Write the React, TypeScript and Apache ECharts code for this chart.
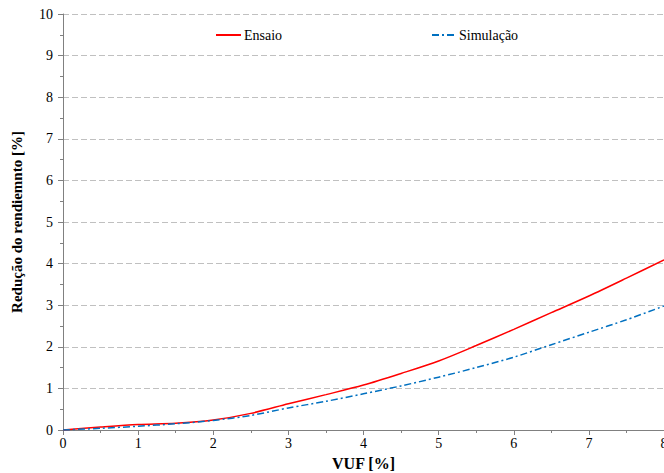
import React, { useEffect, useRef } from "react";
import * as echarts from "echarts";

const xValues = [0, 0.5, 1, 1.5, 2, 2.5, 3, 3.5, 4, 4.5, 5, 5.5, 6, 6.5, 7, 7.5, 8];
const ensaio = [0, 0.07, 0.13, 0.16, 0.24, 0.4, 0.63, 0.85, 1.08, 1.36, 1.66, 2.03, 2.42, 2.82, 3.22, 3.65, 4.09];
const simulacao = [0, 0.04, 0.09, 0.15, 0.23, 0.35, 0.53, 0.69, 0.87, 1.06, 1.27, 1.5, 1.75, 2.05, 2.35, 2.65, 2.98];
const seriesNames = ["Ensaio", "Simulação"];
const xAxisName = "VUF [%]";
const yAxisName = "Redução do rendiemnto [%]";

const font = "'Liberation Serif', 'Times New Roman', serif";

export default function App() {
  const ref = useRef<HTMLDivElement>(null);
  useEffect(() => {
    if (!ref.current) return;
    const chart = echarts.init(ref.current, null, { renderer: "svg" });
    const axisCommon = {
      axisLine: { show: true, lineStyle: { color: "#808080", width: 1 } },
      axisTick: { show: true, inside: false, length: 5, lineStyle: { color: "#808080" } },
      minorTick: { show: true, splitNumber: 2, length: 3, lineStyle: { color: "#808080" } },
      axisLabel: { color: "#000", fontFamily: font, fontSize: 14 },
    };
    const legendCommon = {
      itemHeight: 14,
      itemGap: 4,
      itemStyle: { opacity: 0 },
      textStyle: { fontFamily: font, fontSize: 14, color: "#000", padding: [0, 0, 0, -2] },
    };
    chart.setOption({
      animation: false,
      backgroundColor: "#fff",
      textStyle: { fontFamily: font },
      grid: { left: 63, top: 14, right: 0, bottom: 43, containLabel: false, outerBoundsMode: "none" },
      legend: [
        { ...legendCommon, data: [seriesNames[0]], left: 210, top: 23, itemWidth: 25 },
        { ...legendCommon, data: [seriesNames[1]], left: 426, top: 23, itemWidth: 24 },
      ],
      xAxis: {
        type: "value",
        min: 0,
        max: 8,
        interval: 1,
        name: xAxisName,
        nameLocation: "middle",
        nameGap: 25,
        nameTextStyle: { fontFamily: font, fontSize: 16, fontWeight: "bold", color: "#000" },
        splitLine: { show: false },
        ...axisCommon,
        axisLabel: { ...axisCommon.axisLabel, margin: 6 },
      },
      yAxis: {
        type: "value",
        min: 0,
        max: 10,
        interval: 1,
        name: yAxisName,
        nameLocation: "middle",
        nameRotate: 90,
        nameGap: 39,
        nameTextStyle: { fontFamily: font, fontSize: 15, fontWeight: "bold", color: "#000" },
        splitLine: { show: true, lineStyle: { color: "#c0c0c0", type: [6, 3], width: 1 } },
        ...axisCommon,
        axisLabel: { ...axisCommon.axisLabel, margin: 10 },
      },
      series: [
        {
          name: seriesNames[0],
          type: "line",
          data: xValues.map((x, i) => [x, ensaio[i]]),
          smooth: 0.3,
          symbol: "none",
          lineStyle: { color: "#ff0000", width: 1.5 },
          itemStyle: { color: "#ff0000" },
        },
        {
          name: seriesNames[1],
          type: "line",
          data: xValues.map((x, i) => [x, simulacao[i]]),
          smooth: 0.3,
          symbol: "none",
          lineStyle: { color: "#0070c0", width: 1.5, type: [7, 3, 2, 3] },
          itemStyle: { color: "#0070c0" },
        },
      ],
    });
    return () => chart.dispose();
  }, []);
  return (
    <div
      ref={ref}
      style={{ position: "fixed", left: 0, top: 0, width: 664, height: 473, background: "#fff" }}
    />
  );
}
